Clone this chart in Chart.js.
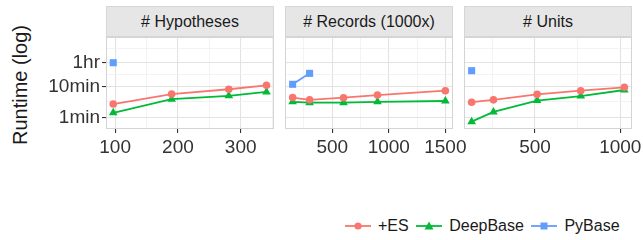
<!DOCTYPE html>
<html lang="en">
<head>
    <meta charset="UTF-8">
    <title>Runtime (log)</title>
    <script src="https://cdn.jsdelivr.net/npm/chart.js"></script>
    <style>
        body {
            margin: 0;
            width: 643px;
            height: 240px;
            background: #fff;
            position: relative;
            overflow: hidden;
            font-family: "Liberation Sans", Arial, sans-serif;
        }
        .strip {
            position: absolute;
            top: 6px;
            height: 31px;
            width: 168px;
            box-sizing: border-box;
            background: #e6e6e6;
            border: 1px solid #d6d6d6;
            color: #1a1a1a;
            font-size: 16px;
            line-height: 29px;
            text-align: center;
        }
        #ytitle {
            position: absolute;
            left: 20px;
            top: 85px;
            transform: translate(-50%, -50%) rotate(-90deg);
            font-size: 20px;
            color: #1a1a1a;
            white-space: nowrap;
        }
        canvas { position: absolute; top: 30px; }
        #legend {
            position: absolute;
            top: 217px;
            left: 345px;
            display: flex;
            align-items: center;
            font-size: 16px;
            color: #1a1a1a;
            white-space: nowrap;
        }
        #legend .item { display: flex; align-items: center; margin-right: 7.5px; }
        #legend svg { margin-right: 7px; }
    </style>
</head>
<body>
    <div class="strip" style="left:106px" id="strip0"></div>
    <div class="strip" style="left:285px" id="strip1"></div>
    <div class="strip" style="left:464px" id="strip2"></div>
    <div id="ytitle">Runtime (log)</div>

    <canvas id="c0" width="290" height="130" style="left:0px"></canvas>
    <canvas id="c1" width="200" height="130" style="left:278px"></canvas>
    <canvas id="c2" width="186" height="130" style="left:457px"></canvas>

    <div id="legend"></div>

    <script>
        // series + panel labels
        const seriesNames = ['+ES', 'DeepBase', 'PyBase'];
        const seriesColors = ['#F8766D', '#00BA38', '#619CFF'];
        const panelTitles = ['# Hypotheses', '# Records (1000x)', '# Units'];

        // runtimes in minutes
        const hypX = [97, 190, 281, 341];
        const hypES = [2.7, 5.7, 8.2, 11.0];
        const hypDeepBase = [1.4, 3.9, 5.0, 6.7];
        const hypPyX = [97];
        const hypPyBase = [60];

        const recX = [150, 300, 600, 900, 1500];
        const recES = [4.4, 3.7, 4.35, 5.3, 7.35];
        const recDeepBase = [3.2, 3.0, 3.0, 3.2, 3.4];
        const recPyX = [150, 300];
        const recPyBase = [11.9, 27];

        const unitX = [128, 256, 512, 768, 1024];
        const unitES = [3.1, 3.7, 5.6, 7.35, 9.5];
        const unitDeepBase = [0.72, 1.5, 3.5, 4.9, 7.75];
        const unitPyX = [128];
        const unitPyBase = [33];

        // tick labels
        const xTicks = [[100, 200, 300], [500, 1000, 1500], [500, 1000]];
        const xMinor = [[150, 250, 350], [250, 750, 1250], [250, 750]];
        const yTicks = [1, 10, 60];
        const yTickLabels = ['1min', '10min', '1hr'];
        const yMinor = [3.16, 24.5, 175];

        // axis limits
        const xLimits = [[85.5, 353], [82.5, 1567.5], [83.2, 1068.8]];
        const yLimits = [0.416, 413];

        const pointStyles = ['circle', 'triangle', 'rect'];
        const pointSizes = [3.8, 5, 5];

        const panelBorder = {
            id: 'panelBorder',
            beforeDatasetsDraw(chart) {
                const a = chart.chartArea;
                const ctx = chart.ctx;
                ctx.save();
                ctx.strokeStyle = '#d4d4d4';
                ctx.lineWidth = 1;
                ctx.strokeRect(Math.round(a.left) + 0.5, Math.round(a.top) + 0.5,
                    Math.round(a.right - a.left) - 1, Math.round(a.bottom - a.top) - 1);
                ctx.restore();
            }
        };

        function toPoints(xs, ys) {
            return xs.map((x, k) => ({x: x, y: ys[k]}));
        }

        function makeDataset(i, xs, ys) {
            return {
                label: seriesNames[i],
                data: toPoints(xs, ys),
                borderColor: seriesColors[i],
                backgroundColor: seriesColors[i],
                borderWidth: 1.8,
                pointStyle: pointStyles[i],
                pointRadius: pointSizes[i],
                pointBorderWidth: 0,
                pointBackgroundColor: seriesColors[i],
                tension: 0
            };
        }

        function setTicks(major, minor) {
            return s => {
                s.ticks = major.concat(minor).sort((a, b) => a - b).map(v => ({value: v}));
            };
        }

        function makePanel(p, canvasId, sets, padding, showY) {
            const major = xTicks[p];
            const isMajorX = v => major.includes(v);
            const isMajorY = v => yTicks.includes(v);
            new Chart(document.getElementById(canvasId), {
                type: 'line',
                data: { datasets: sets },
                options: {
                    responsive: false,
                    animation: false,
                    layout: { padding: padding },
                    plugins: { legend: { display: false }, tooltip: { enabled: false } },
                    scales: {
                        x: {
                            type: 'linear',
                            min: xLimits[p][0],
                            max: xLimits[p][1],
                            afterBuildTicks: setTicks(major, xMinor[p]),
                            afterFit: s => { s.height = 31; s.paddingLeft = 0; s.paddingRight = 0; },
                            border: { display: false },
                            grid: {
                                color: c => isMajorX(c.tick.value) ? '#e3e3e3' : '#f0f0f0',
                                lineWidth: c => isMajorX(c.tick.value) ? 1.1 : 0.8,
                                tickColor: c => isMajorX(c.tick.value) ? '#333' : 'rgba(0,0,0,0)',
                                tickLength: 4,
                                tickWidth: 1.1
                            },
                            ticks: {
                                autoSkip: false,
                                maxRotation: 0,
                                padding: 3,
                                color: '#333',
                                font: { family: 'Liberation Sans', size: 19 },
                                callback: v => isMajorX(v) ? String(v) : ''
                            }
                        },
                        y: {
                            type: 'logarithmic',
                            min: yLimits[0],
                            max: yLimits[1],
                            afterBuildTicks: setTicks(yTicks, yMinor),
                            afterFit: s => { s.width = showY ? 106 : 0; s.paddingTop = 0; s.paddingBottom = 0; },
                            border: { display: false },
                            grid: {
                                drawTicks: showY,
                                color: c => isMajorY(c.tick.value) ? '#e3e3e3' : '#f0f0f0',
                                lineWidth: c => isMajorY(c.tick.value) ? 1.1 : 0.8,
                                tickColor: c => isMajorY(c.tick.value) ? '#333' : 'rgba(0,0,0,0)',
                                tickLength: 4,
                                tickWidth: 1.1
                            },
                            ticks: {
                                display: showY,
                                autoSkip: false,
                                padding: 2,
                                color: '#333',
                                font: { family: 'Liberation Sans', size: 19 },
                                callback: v => {
                                    const k = yTicks.indexOf(v);
                                    return k >= 0 ? yTickLabels[k] : '';
                                }
                            }
                        }
                    }
                },
                plugins: [panelBorder]
            });
        }

        panelTitles.forEach((t, i) => { document.getElementById('strip' + i).textContent = t; });

        makePanel(0, 'c0', [
            makeDataset(0, hypX, hypES),
            makeDataset(1, hypX, hypDeepBase),
            makeDataset(2, hypPyX, hypPyBase)
        ], {left: 0, right: 16, top: 7, bottom: 0}, true);

        makePanel(1, 'c1', [
            makeDataset(0, recX, recES),
            makeDataset(1, recX, recDeepBase),
            makeDataset(2, recPyX, recPyBase)
        ], {left: 7, right: 25, top: 7, bottom: 0}, false);

        makePanel(2, 'c2', [
            makeDataset(0, unitX, unitES),
            makeDataset(1, unitX, unitDeepBase),
            makeDataset(2, unitPyX, unitPyBase)
        ], {left: 7, right: 11, top: 7, bottom: 0}, false);

        // legend: line + marker, like ggplot's key
        const markers = [
            c => `<circle cx="13" cy="6" r="3.6" fill="${c}"/>`,
            c => `<polygon points="13,1.5 17.5,9.5 8.5,9.5" fill="${c}"/>`,
            c => `<rect x="9.5" y="2.5" width="7" height="7" fill="${c}"/>`
        ];
        const legend = document.getElementById('legend');
        seriesNames.forEach((name, i) => {
            const item = document.createElement('span');
            item.className = 'item';
            item.innerHTML = `<svg width="26" height="12"><line x1="0" y1="6" x2="26" y2="6" stroke="${seriesColors[i]}" stroke-width="1.8"/>${markers[i](seriesColors[i])}</svg><span>${name}</span>`;
            legend.appendChild(item);
        });
    </script>
</body>
</html>
